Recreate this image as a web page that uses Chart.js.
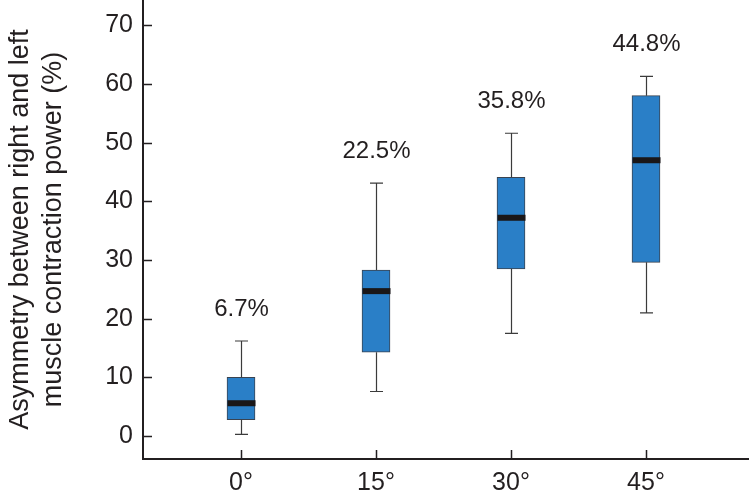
<!DOCTYPE html>
<html>
<head>
<meta charset="utf-8">
<script src="https://cdn.jsdelivr.net/npm/chart.js@4"></script>
<style>
  html, body { margin: 0; padding: 0; background: #fff; }
  #wrap { width: 749px; height: 504px; }
</style>
</head>
<body>
<div id="wrap"><canvas id="myChart" width="749" height="504"></canvas></div>
<script>
const categories = ['0°', '15°', '30°', '45°'];
const whiskerLow = [0.3, 7.6, 17.5, 21.0];
const q1 = [2.8, 14.3, 28.5, 29.6];
const median = [5.6, 24.7, 37.2, 47.0];
const q3 = [10.0, 28.3, 44.1, 58.0];
const whiskerHigh = [16.2, 43.1, 51.6, 61.3];
const pctLabels = ['6.7%', '22.5%', '35.8%', '44.8%'];
const yTicks = [0, 10, 20, 30, 40, 50, 60, 70];

const FONT = "'Liberation Sans', Arial, Helvetica, sans-serif";
const INK = '#231f20';

// whiskers, medians, labels and inward tick marks
const boxExtras = {
    id: 'boxExtras',
    afterDatasetsDraw(chart) {
        const c = chart.ctx;
        const x = chart.scales.x;
        const y = chart.scales.y;
        const half = 14;
        const cap = 6.5;
        c.save();
        categories.forEach((cat, i) => {
            const px = Math.round(x.getPixelForValue(i)) + 0.5;
            c.strokeStyle = '#3b3b3b';
            c.lineWidth = 1.2;
            c.beginPath();
            c.moveTo(px, y.getPixelForValue(q3[i]));
            c.lineTo(px, y.getPixelForValue(whiskerHigh[i]));
            c.moveTo(px - cap, y.getPixelForValue(whiskerHigh[i]));
            c.lineTo(px + cap, y.getPixelForValue(whiskerHigh[i]));
            c.moveTo(px, y.getPixelForValue(q1[i]));
            c.lineTo(px, y.getPixelForValue(whiskerLow[i]));
            c.moveTo(px - cap, y.getPixelForValue(whiskerLow[i]));
            c.lineTo(px + cap, y.getPixelForValue(whiskerLow[i]));
            c.stroke();

            // median
            c.fillStyle = '#1a1718';
            const my = y.getPixelForValue(median[i]);
            c.fillRect(px - half, my - 3, half * 2, 6);

            // percentage label
            c.fillStyle = INK;
            c.font = '24px ' + FONT;
            c.textAlign = 'center';
            c.textBaseline = 'middle';
            c.fillText(pctLabels[i], px, y.getPixelForValue(whiskerHigh[i]) - 32);
        });

        // tick marks pointing into the plot
        c.strokeStyle = INK;
        c.lineWidth = 1.5;
        c.beginPath();
        yTicks.forEach(v => {
            const py = Math.round(y.getPixelForValue(v)) + 0.5;
            c.moveTo(chart.chartArea.left, py);
            c.lineTo(chart.chartArea.left + 9, py);
        });
        categories.forEach((cat, i) => {
            const px = Math.round(x.getPixelForValue(i)) + 0.5;
            c.moveTo(px, chart.chartArea.bottom);
            c.lineTo(px, chart.chartArea.bottom - 9);
        });
        c.stroke();
        c.restore();
    }
};

new Chart(document.getElementById('myChart'), {
    type: 'bar',
    data: {
        datasets: [{
            label: 'Asymmetry',
            data: categories.map((cat, i) => ({ x: i, y: [q1[i], q3[i]] })),
            backgroundColor: '#2a7fc7',
            borderColor: '#3a4350',
            borderWidth: 1,
            borderSkipped: false,
            barThickness: 28
        }]
    },
    options: {
        responsive: false,
        animation: false,
        layout: { padding: 0 },
        plugins: {
            legend: { display: false },
            tooltip: { enabled: false }
        },
        scales: {
            x: {
                type: 'linear',
                offset: false,
                min: -0.726,
                max: 3.763,
                afterBuildTicks: scale => { scale.ticks = categories.map((c, i) => ({ value: i })); },
                afterFit: scale => {
                    scale.height = 45;
                    scale.paddingLeft = 0;
                    scale.paddingRight = 0;
                },
                grid: { display: false, drawTicks: false, offset: false },
                border: { display: true, color: INK, width: 2 },
                ticks: {
                    padding: 9,
                    color: INK,
                    maxRotation: 0,
                    font: { family: FONT, size: 25 },
                    callback: v => categories[v]
                }
            },
            y: {
                min: -3.9,
                max: 74.3,
                afterBuildTicks: scale => { scale.ticks = yTicks.map(v => ({ value: v })); },
                afterFit: scale => {
                    scale.width = 143;
                    scale.paddingTop = 0;
                    scale.paddingBottom = 0;
                },
                grid: { display: false, drawTicks: false },
                border: { display: true, color: INK, width: 2 },
                ticks: {
                    padding: 10,
                    color: INK,
                    font: { family: FONT, size: 25 }
                },
                title: {
                    display: true,
                    text: ['Asymmetry between right and left', 'muscle contraction power (%)'],
                    color: INK,
                    font: { family: FONT, size: 27, lineHeight: 1.22 },
                    padding: { top: 4, bottom: 0 }
                }
            }
        }
    },
    plugins: [boxExtras]
});
</script>
</body>
</html>
